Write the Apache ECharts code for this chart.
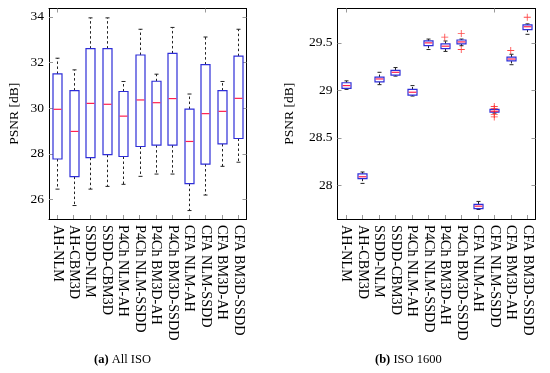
<!DOCTYPE html>
<html>
<head>
<meta charset="utf-8">
<script src="https://cdn.jsdelivr.net/npm/echarts@6/dist/echarts.min.js"></script>
<style>html,body{margin:0;padding:0;background:#fff}#c{width:550px;height:373px}</style>
</head>
<body>
<div id="c"></div>
<script>
const categories = ['AH-NLM','AH-CBM3D','SSDD-NLM','SSDD-CBM3D','P4Ch NLM-AH','P4Ch NLM-SSDD','P4Ch BM3D-AH','P4Ch BM3D-SSDD','CFA NLM-AH','CFA NLM-SSDD','CFA BM3D-AH','CFA BM3D-SSDD'];
// [min, q1, median, q3, max]
const allIsoStats = [
  [26.45, 27.77, 29.95, 31.50, 32.19],
  [25.73, 27.00, 28.98, 30.77, 31.68],
  [26.45, 27.83, 30.21, 32.61, 33.96],
  [26.57, 27.96, 30.17, 32.61, 33.96],
  [26.66, 27.88, 29.65, 30.73, 31.17],
  [27.01, 28.32, 30.36, 32.33, 33.46],
  [27.11, 28.38, 30.24, 31.18, 31.49],
  [27.11, 28.38, 30.42, 32.40, 33.54],
  [25.51, 26.69, 28.54, 29.96, 30.62],
  [26.19, 27.55, 29.76, 31.91, 33.12],
  [27.45, 28.43, 29.86, 30.77, 31.17],
  [27.63, 28.67, 30.43, 32.28, 33.46]
];
const iso1600Stats = [
  [29.01, 29.02, 29.05, 29.08, 29.10],
  [28.02, 28.07, 28.09, 28.12, 28.14],
  [29.06, 29.09, 29.12, 29.14, 29.19],
  [29.15, 29.16, 29.19, 29.21, 29.24],
  [28.94, 28.95, 28.98, 29.01, 29.05],
  [29.43, 29.47, 29.50, 29.52, 29.54],
  [29.41, 29.44, 29.465, 29.49, 29.52],
  [29.47, 29.49, 29.51, 29.53, 29.54],
  [27.745, 27.755, 27.78, 27.80, 27.83],
  [28.76, 28.77, 28.78, 28.80, 28.80],
  [29.27, 29.31, 29.33, 29.35, 29.38],
  [29.59, 29.64, 29.67, 29.69, 29.70]
];
// [category index, value]
const iso1600Outliers = [
  [6, 29.56],
  [7, 29.60], [7, 29.43],
  [9, 28.83], [9, 28.81], [9, 28.745], [9, 28.72],
  [10, 29.42],
  [11, 29.77]
];
const allIsoTicks = [26, 28, 30, 32, 34];
const iso1600Ticks = [28, 28.5, 29, 29.5];
const captions = ['{b|(a)} All ISO', '{b|(b)} ISO 1600'];

const FONT = 'Liberation Serif';
const BOX = '#2e2ed8', MED = '#ff2050', TICK = '#999';

function renderBox(params, api) {
  const x = api.value(0);
  const lo = api.coord([x, api.value(1)]);
  const q1 = api.coord([x, api.value(2)]);
  const md = api.coord([x, api.value(3)]);
  const q3 = api.coord([x, api.value(4)]);
  const hi = api.coord([x, api.value(5)]);
  const cx = Math.round(lo[0]) + 0.5;
  const bw = 9, cw = 4;
  const dash = {stroke:'#222', lineWidth:1, lineDash:[2.5,2.5]};
  const solid = {stroke:'#222', lineWidth:1};
  return {type:'group', children:[
    {type:'line', shape:{x1:cx,y1:q3[1],x2:cx,y2:hi[1]}, style:dash},
    {type:'line', shape:{x1:cx,y1:q1[1],x2:cx,y2:lo[1]}, style:dash},
    {type:'line', shape:{x1:cx-cw/2,y1:hi[1],x2:cx+cw/2,y2:hi[1]}, style:solid},
    {type:'line', shape:{x1:cx-cw/2,y1:lo[1],x2:cx+cw/2,y2:lo[1]}, style:solid},
    {type:'rect', shape:{x:cx-bw/2,y:q3[1],width:bw,height:q1[1]-q3[1]}, style:{fill:'#fff', stroke:BOX, lineWidth:1.2}},
    {type:'line', shape:{x1:cx-bw/2+0.6,y1:md[1],x2:cx+bw/2-0.6,y2:md[1]}, style:{stroke:MED, lineWidth:1.2}}
  ]};
}

function xAxes(gi) {
  return [
    {type:'category', gridIndex:gi, data:categories, position:'bottom',
     axisLine:{show:true, lineStyle:{color:'#000', width:1}},
     axisTick:{show:true, inside:true, length:4, alignWithLabel:true, lineStyle:{color:TICK}},
     axisLabel:{rotate:-90, margin:6, fontFamily:FONT, fontSize:14.2, color:'#000', interval:0},
     splitLine:{show:false}},
    {type:'category', gridIndex:gi, data:categories, position:'top',
     axisLine:{show:true, lineStyle:{color:'#000', width:1}},
     axisTick:{show:true, inside:true, length:4, alignWithLabel:true, lineStyle:{color:TICK}},
     axisLabel:{show:false}, splitLine:{show:false}}
  ];
}
function yAxes(gi, min, max, ticks, gap) {
  return [
    {type:'value', gridIndex:gi, min:min, max:max, position:'left',
     name:'PSNR [dB]', nameLocation:'middle', nameGap:gap,
     nameTextStyle:{fontFamily:FONT, fontSize:13.5, color:'#000'},
     axisLine:{show:true, lineStyle:{color:'#000', width:1}},
     axisTick:{show:true, inside:true, length:4, customValues:ticks, lineStyle:{color:TICK}},
     axisLabel:{customValues:ticks, margin:5, fontFamily:FONT, fontSize:13.5, color:'#000'},
     splitLine:{show:false}},
    {type:'value', gridIndex:gi, min:min, max:max, position:'right',
     axisLine:{show:true, lineStyle:{color:'#000', width:1}},
     axisTick:{show:true, inside:true, length:4, customValues:ticks, lineStyle:{color:TICK}},
     axisLabel:{show:false}, splitLine:{show:false}}
  ];
}

const chart = echarts.init(document.getElementById('c'), null, {renderer:'canvas'});
chart.setOption({
  animation:false,
  backgroundColor:'#fff',
  grid:[
    {left:49, top:8.5, width:197.5, height:210.5},
    {left:337.5, top:8.5, width:198, height:210.5}
  ],
  xAxis:[...xAxes(0), ...xAxes(1)],
  yAxis:[...yAxes(0, 25.14, 34.37, allIsoTicks, 28), ...yAxes(1, 27.645, 29.862, iso1600Ticks, 41)],
  series:[
    {type:'custom', xAxisIndex:0, yAxisIndex:0, renderItem:renderBox, encode:{x:0, y:[1,2,3,4,5]},
     data: allIsoStats.map((s,i)=>[i, ...s])},
    {type:'custom', xAxisIndex:2, yAxisIndex:2, renderItem:renderBox, encode:{x:0, y:[1,2,3,4,5]},
     data: iso1600Stats.map((s,i)=>[i, ...s])},
    {type:'scatter', xAxisIndex:2, yAxisIndex:2, data: iso1600Outliers,
     symbol:'path://M4.4,0H5.6V4.4H10V5.6H5.6V10H4.4V5.6H0V4.4H4.4Z', symbolSize:7,
     itemStyle:{color:'#ff1a1a'}, z:5}
  ],
  graphic:[
    {type:'text', left:123-29, top:353, style:{text:captions[0], rich:{b:{fontWeight:'bold', fontFamily:FONT, fontSize:12.5}}, fontFamily:FONT, fontSize:12.5, fill:'#000'}},
    {type:'text', left:408-33, top:353, style:{text:captions[1], rich:{b:{fontWeight:'bold', fontFamily:FONT, fontSize:12.5}}, fontFamily:FONT, fontSize:12.5, fill:'#000'}}
  ]
});
</script>
</body>
</html>
